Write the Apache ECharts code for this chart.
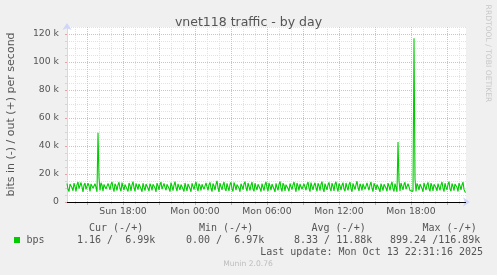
<!DOCTYPE html>
<html>
<head>
<meta charset="utf-8">
<script src="https://cdn.jsdelivr.net/npm/echarts@6/dist/echarts.min.js"></script>
<style>
html,body{margin:0;padding:0;background:#f0f0f0;}
#chart{width:497px;height:275px;}
</style>
</head>
<body>
<div id="chart"></div>
<script>
// ---- data (values in k bits/s, one sample every 5 minutes) ----
const startMinute = 800;   // Sun 13:20 (minutes since Sun 00:00)
const stepMinutes = 5;
const bpsOut = [
13.2,9.1,7.4,12.8,14.1,10.2,8.0,13.5,11.0,7.6,12.4,14.3,9.5,8.3,13.9,10.8,7.2,12.1,13.6,9.0,
8.1,13.4,11.6,7.5,12.9,14.2,9.8,8.4,13.1,10.5,7.3,49.4,17.6,8.2,13.7,12.0,7.8,12.6,14.0,9.3,
7.9,13.3,11.2,8.6,12.7,14.4,10.1,7.4,13.0,11.5,8.2,12.3,14.1,9.6,7.7,13.8,10.9,8.5,12.5,13.9,
9.2,7.5,13.6,11.8,8.0,12.2,14.5,10.3,7.6,13.2,11.1,8.8,12.9,13.7,9.4,7.3,13.4,10.6,8.1,12.8,
14.2,9.9,7.8,13.1,11.4,8.3,12.6,14.0,10.0,7.2,13.5,11.7,8.7,12.4,14.3,9.1,7.9,13.3,10.4,8.4,
12.7,14.1,9.7,7.4,13.8,11.3,8.1,12.0,14.6,10.5,7.7,13.0,11.9,8.6,12.5,13.8,9.3,7.5,13.6,10.7,
8.0,12.9,14.2,9.6,7.3,13.4,11.2,8.9,12.3,14.4,10.2,7.8,13.1,11.6,8.2,12.7,13.9,9.0,7.6,13.7,
10.9,8.3,12.4,14.0,9.8,7.4,13.2,11.5,8.5,12.8,15.1,10.1,7.2,13.5,11.0,8.7,12.2,14.3,9.4,7.9,
13.3,10.6,8.0,12.6,14.1,9.5,7.5,13.9,11.8,8.4,12.5,13.8,9.9,7.3,13.0,11.3,8.8,12.9,14.5,10.3,
7.7,13.6,11.1,8.2,12.1,14.2,9.2,7.6,13.4,10.8,8.6,12.7,13.9,9.7,7.4,13.1,11.7,8.1,12.3,14.4,
10.0,7.8,13.7,11.4,8.5,12.8,14.0,9.3,7.2,13.3,10.5,8.3,12.6,14.7,9.8,7.5,13.5,11.9,8.0,12.4,
13.8,9.6,7.7,13.2,11.0,8.9,12.2,14.3,10.4,7.3,13.6,11.5,8.2,12.9,14.1,9.1,7.9,13.0,10.7,8.4,
12.5,14.2,9.9,7.4,13.9,11.2,8.6,12.0,13.7,10.2,7.6,13.4,11.8,8.1,12.7,14.5,9.4,7.2,13.1,10.9,
8.7,12.3,14.0,9.7,7.8,13.5,11.3,8.0,12.8,14.4,10.1,7.5,13.2,11.6,8.5,12.1,13.8,9.2,7.7,13.6,
10.6,8.3,12.6,14.2,9.5,7.3,13.3,11.1,8.8,12.4,14.8,10.3,7.9,13.0,11.4,8.2,12.9,14.1,9.0,7.6,
13.7,10.8,8.4,12.2,14.3,9.8,7.4,13.4,11.7,8.6,12.5,13.9,9.3,7.2,13.1,11.0,8.1,12.7,14.0,10.0,
7.7,13.5,11.5,8.3,12.3,14.4,9.6,7.5,13.2,10.4,7.3,42.9,15.2,7.9,13.6,11.2,8.7,12.6,14.1,9.1,
7.8,13.0,10.9,8.2,7.4,8.6,7.6,116.9,16.4,7.5,13.3,11.6,8.4,12.8,14.2,9.7,7.3,13.7,11.0,8.5,
12.4,14.0,9.4,7.6,13.5,11.3,8.0,12.7,13.8,10.2,7.9,13.1,11.8,8.3,12.2,14.3,9.9,7.4,13.4,10.6,
8.8,12.6,14.6,9.2,7.7,13.2,11.1,8.1,12.9,13.9,10.4,7.5,13.6,11.5,8.6,12.3,14.2,9.0,7.2,7.0
];
const yMax = 125;
const yMajor = 20;
const yMinor = 5;
const legendHeaders = ['Cur (-/+)', 'Min (-/+)', 'Avg (-/+)', 'Max (-/+)'];
const legendValues = ['1.16 /  6.99k', '0.00 /  6.97k', '8.33 / 11.88k', '899.24 /116.89k'];
const seriesName = 'bps';
const titleText = 'vnet118 traffic - by day';
const yName = 'bits in (-) / out (+) per second';
const lastUpdate = 'Last update: Mon Oct 13 22:31:16 2025';
const footer = 'Munin 2.0.76';
const watermark = 'RRDTOOL / TOBI OETIKER';

const minutes = bpsOut.map((_, i) => startMinute + i * stepMinutes);
function fmtTime(m) {
  const day = m < 1440 ? 'Sun' : 'Mon';
  const mm = m % 1440;
  const h = Math.floor(mm / 60), mi = mm % 60;
  return day + ' ' + String(h).padStart(2, '0') + ':' + String(mi).padStart(2, '0');
}

const FONT = 'DejaVu Sans';
const MONO = 'DejaVu Sans Mono';
const TXT = '#555';
const GRID_GRAY = '#e2e2e2';
const GRID_RED = '#f0b4b4';
const AXIS_COL = '#CFD6F8';

const chart = echarts.init(document.getElementById('chart'), null, {renderer: 'canvas'});
const headerX = [89, 199, 311.5, 422.5];
const valueX = [77, 186, 294, 390];
const graphics = [];
legendHeaders.forEach((t, i) => graphics.push({type: 'text', x: headerX[i], y: 228,
  style: {text: t, font: '10px ' + MONO, fill: TXT, textAlign: 'left', textVerticalAlign: 'middle'}}));
legendValues.forEach((t, i) => graphics.push({type: 'text', x: valueX[i], y: 240,
  style: {text: t, font: '10px ' + MONO, fill: TXT, textAlign: 'left', textVerticalAlign: 'middle'}}));
graphics.push({type: 'rect', shape: {x: 14, y: 237, width: 6, height: 6}, style: {fill: '#00cc00'}});
graphics.push({type: 'text', x: 26.5, y: 240,
  style: {text: seriesName, font: '10px ' + MONO, fill: TXT, textAlign: 'left', textVerticalAlign: 'middle'}});
graphics.push({type: 'text', x: 483, y: 252,
  style: {text: lastUpdate, font: '10px ' + MONO, fill: TXT, textAlign: 'right', textVerticalAlign: 'middle'}});
graphics.push({type: 'text', x: 248, y: 264,
  style: {text: footer, font: '7.6px ' + FONT, fill: '#bdbdbd', textAlign: 'center', textVerticalAlign: 'middle'}});
graphics.push({type: 'text', x: 488, y: 53.5, rotation: -Math.PI / 2,
  style: {text: watermark, font: '7.6px ' + FONT, fill: '#c8c8c8', textAlign: 'center', textVerticalAlign: 'middle'}});

const option = {
  animation: false,
  backgroundColor: '#f0f0f0',
  title: {
    text: titleText, left: 'center', top: 11,
    textStyle: {fontFamily: FONT, fontSize: 12.5, fontWeight: 'normal', color: TXT}
  },
  grid: {left: 67, right: 31, top: 27, bottom: 73, show: true, backgroundColor: '#ffffff', borderWidth: 0,
         containLabel: false, outerBoundsMode: 'none'},
  xAxis: [
    { // minor hourly grid
      type: 'category', data: minutes, boundaryGap: false, position: 'bottom', z: 0,
      axisLine: {show: false},
      axisLabel: {show: false},
      axisTick: {show: true, length: 2, interval: (i, v) => Number(v) % 60 === 0, lineStyle: {color: '#cccccc'}},
      splitLine: {show: true, interval: (i, v) => Number(v) % 60 === 0, lineStyle: {color: GRID_GRAY, type: [1, 1], width: 1}}
    },
    { // major 3-hour grid + labels
      type: 'category', data: minutes, boundaryGap: false, position: 'bottom', z: 1,
      axisLine: {show: true, lineStyle: {color: AXIS_COL, width: 1}, symbol: ['none', 'arrow'], symbolSize: [7, 7], symbolOffset: [0, 4]},
      axisTick: {show: true, length: 3, interval: (i, v) => Number(v) % 180 === 0, lineStyle: {color: '#e8a0a0'}},
      axisLabel: {
        show: true, interval: (i, v) => Number(v) % 360 === 0, margin: 5,
        formatter: v => fmtTime(Number(v)),
        fontFamily: FONT, fontSize: 9.3, color: TXT
      },
      splitLine: {show: true, interval: (i, v) => Number(v) % 180 === 0, lineStyle: {color: GRID_RED, type: [1, 1], width: 1}}
    }
  ],
  yAxis: [
    { // minor
      type: 'value', min: 0, max: yMax, interval: yMinor, position: 'left', z: 0,
      axisLine: {show: false}, axisLabel: {show: false},
      axisTick: {show: true, length: 2, lineStyle: {color: '#d4d4d4'}},
      splitLine: {show: true, lineStyle: {color: GRID_GRAY, type: [1, 1], width: 1}}
    },
    { // major
      type: 'value', min: 0, max: yMax, interval: yMajor, position: 'left', z: 1,
      name: yName, nameLocation: 'middle', nameGap: 50,
      nameTextStyle: {fontFamily: FONT, fontSize: 11, color: TXT},
      axisLine: {show: true, lineStyle: {color: AXIS_COL, width: 1}, symbol: ['none', 'arrow'], symbolSize: [7, 7], symbolOffset: [0, 4]},
      axisTick: {show: true, length: 2, lineStyle: {color: '#e8a0a0'}},
      axisLabel: {
        margin: 8, fontFamily: FONT, fontSize: 9.3, color: TXT, showMaxLabel: false,
        formatter: v => (v % yMajor !== 0 ? '' : (v === 0 ? '0' : v + ' k'))
      },
      splitLine: {show: true, showMaxLine: false, lineStyle: {color: GRID_RED, type: [1, 1], width: 1}}
    }
  ],
  series: [{
    name: seriesName, type: 'line', xAxisIndex: 1, yAxisIndex: 1,
    data: bpsOut, showSymbol: false, symbol: 'none', smooth: false,
    lineStyle: {color: '#00cc00', width: 1.1}, itemStyle: {color: '#00cc00'},
    markLine: {
      silent: true, symbol: 'none', label: {show: false},
      lineStyle: {color: '#000000', type: 'solid', width: 1},
      data: [{yAxis: 0}]
    }
  }],
  graphic: graphics
};
chart.setOption(option);
</script>
</body>
</html>
